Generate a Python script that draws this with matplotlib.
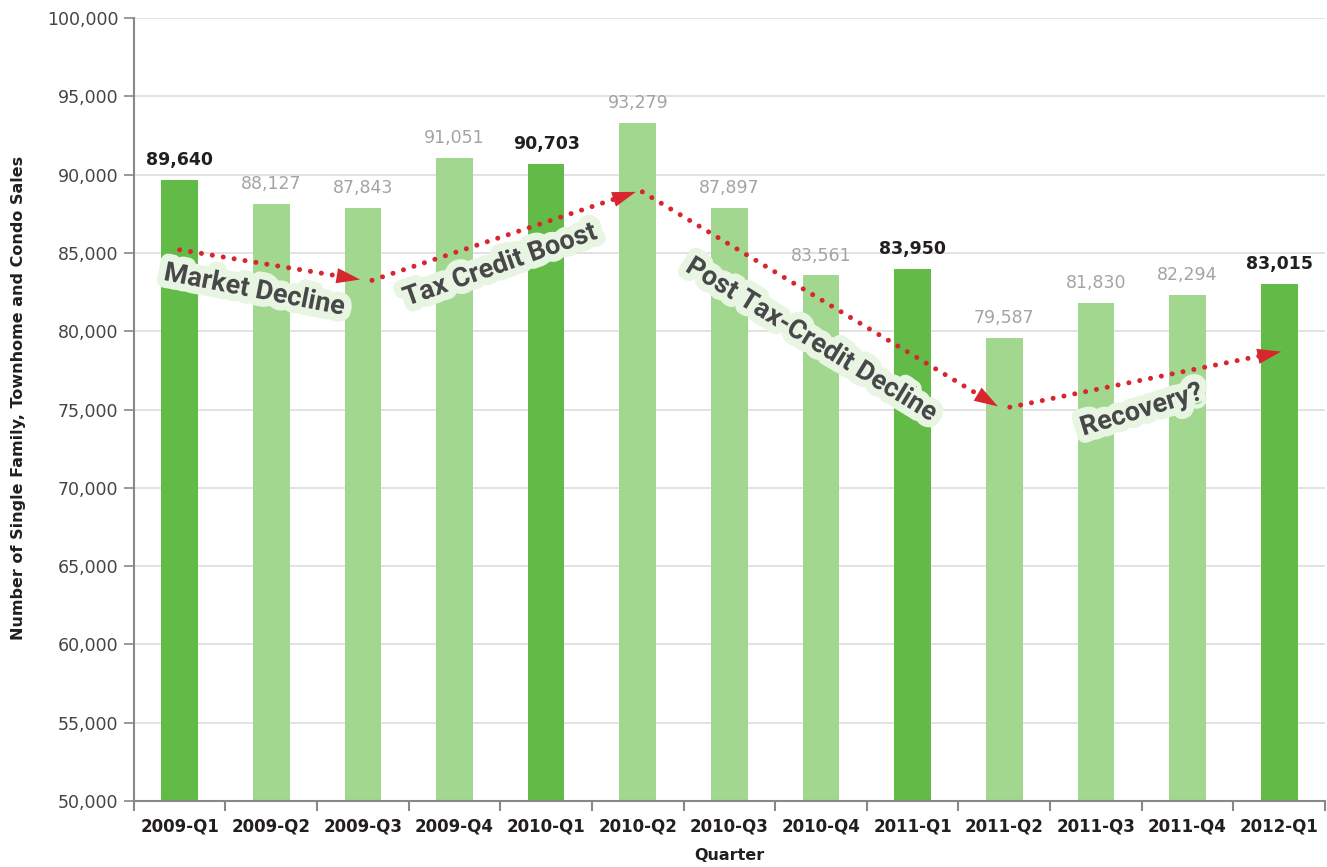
import matplotlib
matplotlib.use("Agg")
import matplotlib.pyplot as plt
import matplotlib.patheffects as pe

quarters = ["2009-Q1", "2009-Q2", "2009-Q3", "2009-Q4", "2010-Q1", "2010-Q2",
            "2010-Q3", "2010-Q4", "2011-Q1", "2011-Q2", "2011-Q3", "2011-Q4",
            "2012-Q1"]
sales = [89640, 88127, 87843, 91051, 90703, 93279, 87897, 83561, 83950,
         79587, 81830, 82294, 83015]

# trend arrows: (x0, y0, x1, y1) in category/value units
trends = [(0.0, 85200, 1.97, 83300),
          (2.1, 83250, 4.98, 88900),
          (5.05, 88900, 8.93, 75200),
          (9.06, 75150, 12.02, 78700)]
trend_labels = ["Market Decline", "Tax Credit Boost",
                "Post Tax-Credit Decline", "Recovery?"]

DARK = "#62bb46"
LIGHT = "#a2d790"
RED = "#d7262e"

plt.rcParams['font.family'] = ['DejaVu Sans']

fig = plt.figure(figsize=(13.27, 8.67), dpi=100)
ax = fig.add_axes([0.1008, 0.0761, 0.8977, 0.9031])

x = list(range(len(quarters)))
colors = [DARK if q.endswith("Q1") else LIGHT for q in quarters]
ax.bar(x, [v - 50000 for v in sales], bottom=50000, width=0.4, color=colors,
       zorder=2)

for i, (q, v) in enumerate(zip(quarters, sales)):
    if q.endswith("Q1"):
        ax.text(i, v + 700, f"{v:,}", ha="center", va="bottom", fontsize=12.5,
                fontweight="bold", color="#231f20", zorder=5)
    else:
        ax.text(i, v + 700, f"{v:,}", ha="center", va="bottom", fontsize=12.5,
                color="#a3a3a3", zorder=5)

ax.set_xlim(-0.5, len(quarters) - 0.5)
ax.set_ylim(50000, 100000)
ax.set_yticks(range(50000, 100001, 5000))
ax.set_yticklabels([f"{t:,}" for t in range(50000, 100001, 5000)],
                   fontsize=12.5, color="#444444")
ax.set_xticks(x)
ax.set_xticklabels(quarters, fontsize=12, fontweight="bold", color="#231f20")
ax.set_xticks([i - 0.5 for i in range(len(quarters) + 1)], minor=True)
ax.tick_params(axis="x", which="major", length=0, pad=12)
ax.tick_params(axis="x", which="minor", length=7, color="#888888", width=1.5)
ax.tick_params(axis="y", length=7, color="#888888", width=1.2, pad=4)
ax.grid(axis="y", color="#dddddd", linewidth=1.2, zorder=0)
ax.set_axisbelow(True)
for s in ["top", "right"]:
    ax.spines[s].set_visible(False)
for s in ["left", "bottom"]:
    ax.spines[s].set_color("#888888")
    ax.spines[s].set_linewidth(1.5)

ax.set_ylabel("Number of Single Family, Townhome and Condo Sales",
              fontsize=11.5, fontweight="bold", color="#231f20")
ax.yaxis.set_label_coords(-0.0905, 0.515)
ax.set_xlabel("Quarter", fontsize=11.5, fontweight="bold", color="#231f20")
ax.xaxis.set_label_coords(0.5, -0.0605)

for (x0, y0, x1, y1) in trends:
    ax.plot([x0, x1 - (x1 - x0) * 0.04], [y0, y1 - (y1 - y0) * 0.04],
            color=RED, linewidth=3.6, linestyle=(0, (0.01, 2.2)),
            dash_capstyle="round", zorder=6)
    ax.annotate("", xy=(x1, y1),
                xytext=(x1 - (x1 - x0) * 0.02, y1 - (y1 - y0) * 0.02),
                arrowprops=dict(arrowstyle="-|>,head_length=1.7,head_width=0.55",
                                color=RED, lw=0, shrinkA=0, shrinkB=0),
                zorder=6)

glow = [pe.withStroke(linewidth=11, foreground="#e9f5e3")]
label_pos = [(0.82, 82630, -11), (3.5, 84230, 19.5),
             (6.9, 79440, -31.5), (10.5, 74970, 17)]
for txt, (lx, ly, rot) in zip(trend_labels, label_pos):
    ax.text(lx, ly, txt, ha="center", va="center", rotation=rot,
            rotation_mode="anchor", fontsize=19.5, fontweight="bold",
            color="#48484a", zorder=7, path_effects=glow,
            family=["Roboto", "DejaVu Sans"])

fig.savefig("out.png", dpi=100)
